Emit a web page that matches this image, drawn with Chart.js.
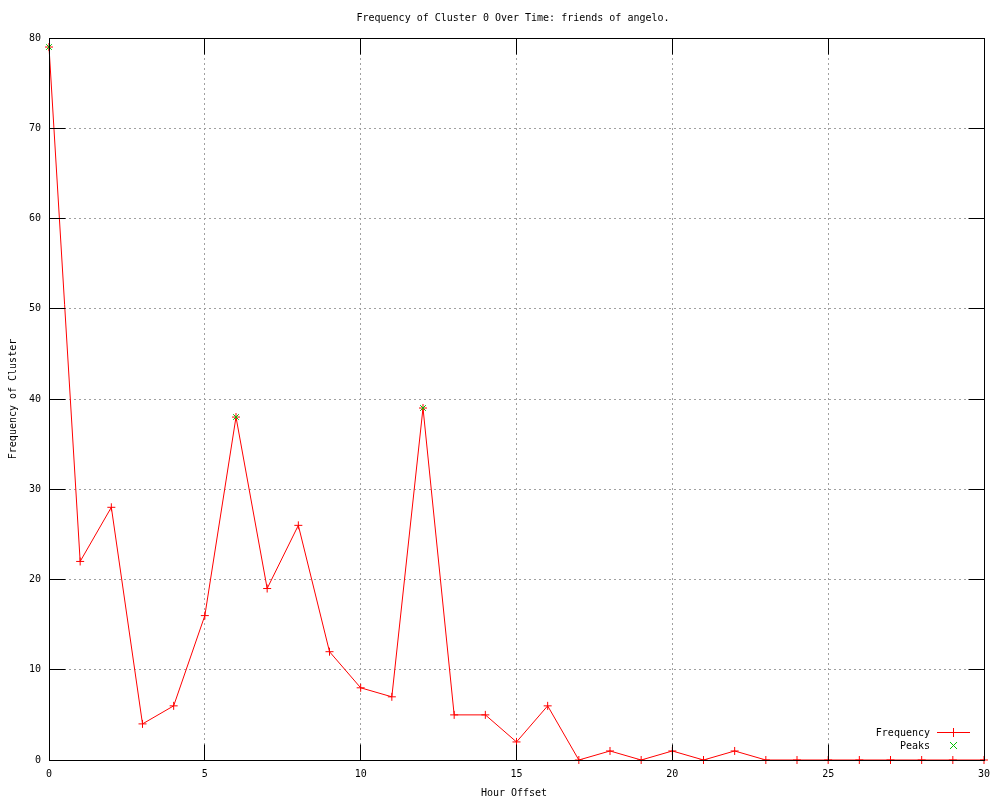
<!doctype html>
<html lang="en">
<head>
<meta charset="UTF-8" />
<title>Frequency of Cluster 0</title>
<style>
  html, body { margin: 0; padding: 0; background: #fff; }
  #wrap { width: 1000px; height: 800px; }
</style>
</head>
<body>
<div id="wrap"><canvas id="chart" width="1000" height="800"></canvas></div>
<script src="https://cdn.jsdelivr.net/npm/chart.js"></script>
<script>
const hours = [0,1,2,3,4,5,6,7,8,9,10,11,12,13,14,15,16,17,18,19,20,21,22,23,24,25,26,27,28,29,30];
const frequency = [79,22,28,4,6,16,38,19,26,12,8,7,39,5,5,2,6,0,1,0,1,0,1,0,0,0,0,0,0,0,0];
const peakHours = [0,6,12];
const peakValues = [79,38,39];
const titleText = "Frequency of Cluster 0 Over Time: friends of angelo.";
const xTitle = "Hour Offset";
const yTitle = "Frequency of Cluster";

const FONT = "10px 'DejaVu Sans Mono', monospace";

const freqPoints = hours.map((h, i) => ({ x: h, y: frequency[i] }));
const peakPoints = peakHours.map((h, i) => ({ x: h, y: peakValues[i] }));

// same pixel snapping Chart.js uses for grid lines
const snap = (p) => Math.round(p - 0.5) + 0.5;

// gnuplot-ish frame: border, inward ticks, title, axis titles, legend
const framePlugin = {
  id: "frame",
  afterDraw(chart) {
    const ctx = chart.ctx;
    const a = chart.chartArea;
    const xs = chart.scales.x, ys = chart.scales.y;
    ctx.save();
    ctx.strokeStyle = "#000";
    ctx.lineWidth = 1;
    const L = snap(a.left), R = snap(a.right), T = snap(a.top), B = snap(a.bottom);
    ctx.strokeRect(L, T, R - L, B - T);

    ctx.beginPath();
    for (let v = 0; v <= 30; v += 5) {
      const px = snap(xs.getPixelForValue(v));
      ctx.moveTo(px, B); ctx.lineTo(px, B - 16);
      ctx.moveTo(px, T); ctx.lineTo(px, T + 16);
    }
    for (let v = 0; v <= 80; v += 10) {
      const py = snap(ys.getPixelForValue(v));
      ctx.moveTo(L, py); ctx.lineTo(L + 16, py);
      ctx.moveTo(R, py); ctx.lineTo(R - 16, py);
    }
    ctx.stroke();

    ctx.fillStyle = "#000";
    ctx.font = FONT;
    ctx.textAlign = "center";
    ctx.textBaseline = "middle";
    ctx.fillText(titleText, 513, 18);
    ctx.fillText(xTitle, 514, 793);
    ctx.save();
    ctx.translate(13, (a.top + a.bottom) / 2);
    ctx.rotate(-Math.PI / 2);
    ctx.fillText(yTitle, 0, 0);
    ctx.restore();

    // legend
    ctx.textAlign = "right";
    ctx.fillText("Frequency", 930, 733);
    ctx.fillText("Peaks", 930, 746);
    ctx.strokeStyle = "#ff0000";
    ctx.beginPath();
    ctx.moveTo(937, 732.5); ctx.lineTo(970, 732.5);
    ctx.moveTo(953.5, 728); ctx.lineTo(953.5, 737);
    ctx.stroke();
    ctx.strokeStyle = "#00c000";
    ctx.beginPath();
    ctx.moveTo(950, 742); ctx.lineTo(957, 749);
    ctx.moveTo(957, 742); ctx.lineTo(950, 749);
    ctx.stroke();
    ctx.restore();
  }
};

const gridColor = (ctx) => {
  const v = ctx.tick ? ctx.tick.value : null;
  const max = ctx.scale.max, min = ctx.scale.min;
  return (v === min || v === max) ? "rgba(0,0,0,0)" : "#a0a0a0";
};

new Chart(document.getElementById("chart"), {
  type: "scatter",
  data: {
    datasets: [
      {
        label: "Frequency",
        data: freqPoints,
        order: 1,
        clip: false,
        showLine: true,
        borderColor: "#ff0000",
        backgroundColor: "#ff0000",
        borderWidth: 1,
        pointStyle: "cross",
        pointRadius: 4,
        pointBorderWidth: 1,
        tension: 0
      },
      {
        label: "Peaks",
        data: peakPoints,
        order: 0,
        clip: false,
        showLine: false,
        borderColor: "#00c000",
        backgroundColor: "#00c000",
        pointStyle: "crossRot",
        pointRadius: 4,
        pointBorderWidth: 1
      }
    ]
  },
  options: {
    responsive: false,
    animation: false,
    layout: { padding: { top: 38, right: 16, left: 0, bottom: 0 } },
    plugins: { legend: { display: false }, title: { display: false }, tooltip: { enabled: false } },
    scales: {
      x: {
        type: "linear",
        min: 0, max: 30,
        ticks: { stepSize: 5, color: "#000", font: { family: "'DejaVu Sans Mono', monospace", size: 10 }, padding: 8, maxRotation: 0 },
        grid: { color: gridColor, drawTicks: false, lineWidth: 1 },
        border: { display: false, dash: [2, 3] },
        afterFit(s) { s.height = 40; }
      },
      y: {
        type: "linear",
        min: 0, max: 80,
        ticks: { stepSize: 10, color: "#000", font: { family: "'DejaVu Sans Mono', monospace", size: 10 }, padding: 8 },
        grid: { color: gridColor, drawTicks: false, lineWidth: 1 },
        border: { display: false, dash: [2, 3] },
        afterFit(s) { s.width = 49; }
      }
    }
  },
  plugins: [framePlugin]
});
</script>
</body>
</html>
